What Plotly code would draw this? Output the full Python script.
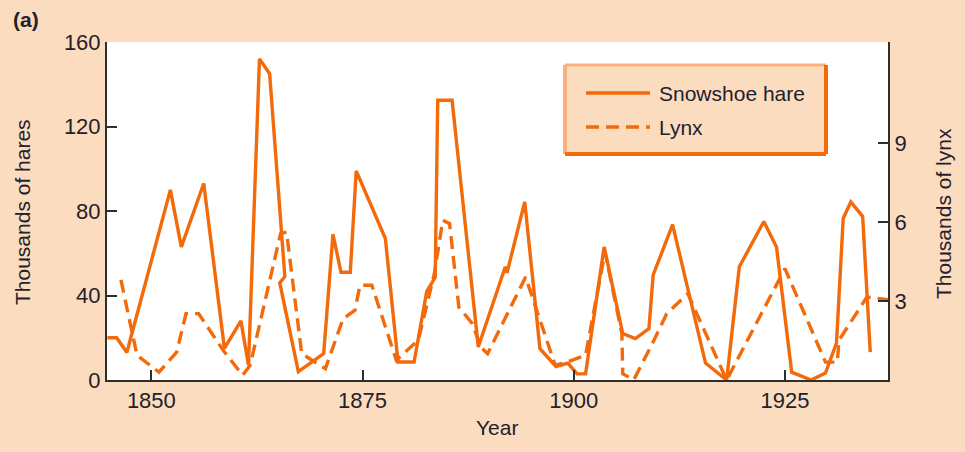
import plotly.graph_objects as go

# ---- data ----
hare_years = [1844.8, 1845.9, 1847.1, 1852.25, 1853.55, 1856.2, 1858.65, 1860.6, 1861.5,
              1862.8, 1864.0, 1865.8, 1865.2, 1867.4, 1870.4, 1871.5, 1872.45, 1873.55,
              1874.25, 1877.7, 1879.2, 1881.1, 1882.6, 1883.6, 1883.9, 1885.6, 1888.7,
              1891.9, 1892.1, 1894.2, 1896.0, 1897.9, 1899.3, 1900.4, 1901.4, 1903.6,
              1905.8, 1907.3, 1908.9, 1909.4, 1911.7, 1915.6, 1918.1, 1919.6, 1922.5,
              1924.0, 1925.8, 1928.1, 1929.8, 1931.1, 1931.9, 1932.8, 1934.2, 1935.1]
hare_values = [20, 20, 13, 90, 63, 93, 15, 28, 7,
               152, 145, 49, 46, 4, 12.5, 69, 51, 51,
               99, 67, 8.5, 8.5, 42, 48.6, 132.4, 132.4, 15.6,
               53.6, 50.7, 84.3, 14.8, 6.4, 8, 2.9, 2.9, 63,
               22, 19.6, 24.3, 49.7, 73.5, 8, 0, 53.6, 75,
               63, 3.7, 0, 3.3, 17.5, 76.6, 84.3, 77.4, 13.2]

lynx_years = [1846.4, 1848.3, 1850.9, 1853.0, 1854.1, 1855.6, 1858.5, 1860.8, 1861.7,
              1865.3, 1866.0, 1867.8, 1870.6, 1872.7, 1874.1, 1874.7, 1876.1, 1879.0,
              1881.6, 1883.5, 1884.5, 1885.3, 1886.4, 1888.0, 1889.0, 1889.8, 1894.3,
              1895.6, 1897.8, 1899.2, 1901.4, 1903.7, 1905.7, 1905.8, 1907.1, 1909.5,
              1911.0, 1913.5, 1918.1, 1925.0, 1929.8, 1931.2, 1931.4, 1934.7, 1937.3]
lynx_values = [3.8, 0.94, 0.3, 1.06, 2.52, 2.52, 1.13, 0.18, 0.56,
               5.56, 5.62, 1.0, 0.43, 2.33, 2.65, 3.6, 3.6, 0.75,
               1.51, 4.04, 6.07, 5.94, 2.77, 2.14, 1.25, 1.0, 3.91,
               2.65, 0.56, 0.68, 0.94, 4.86, 1.76, 0.24, 0.0, 1.51,
               2.52, 3.28, 0.0, 4.23, 0.68, 0.68, 1.51, 3.15, 3.05]

x_ticks = [1850, 1875, 1900, 1925]
hare_ticks = [0, 40, 80, 120, 160]
lynx_ticks = [0, 3, 6, 9]
lynx_ticktext = ["", "3", "6", "9"]

# ---- style ----
ORANGE = "#f26a0a"
LIGHT_ORANGE = "#f9b07a"
PEACH = "#fbdcbf"
TEXT = "#23212b"
AXIS = "#2e2e2e"
FONT = "Liberation Sans, Arial, sans-serif"

W, H = 965, 452
L, R, T, B = 107, 888, 42, 380


def px(x):
    return (x - L) / (R - L)


def py(y):
    return (B - y) / (B - T)


fig = go.Figure()
fig.add_trace(go.Scatter(x=hare_years, y=hare_values, mode="lines", name="Snowshoe hare",
                         line=dict(color=ORANGE, width=3.4), showlegend=False))
fig.add_trace(go.Scatter(x=lynx_years, y=lynx_values, mode="lines", name="Lynx", yaxis="y2",
                         line=dict(color=ORANGE, width=3.4, dash="13px,7px"), showlegend=False))

axis_common = dict(showgrid=False, zeroline=False, showline=True, linecolor=AXIS, linewidth=2,
                   ticks="inside", ticklen=10, tickwidth=2, tickcolor=AXIS,
                   tickfont=dict(family=FONT, size=22, color=TEXT))

fig.update_layout(
    width=W, height=H,
    margin=dict(l=L, r=W - R, t=T, b=H - B, pad=0),
    paper_bgcolor=PEACH, plot_bgcolor="white",
    xaxis=dict(range=[1844.75, 1937.2], tickvals=x_ticks, **axis_common),
    yaxis=dict(range=[0, 160], tickvals=hare_ticks, **axis_common),
    yaxis2=dict(range=[0, 12.84], tickvals=lynx_ticks, ticktext=lynx_ticktext,
                overlaying="y", side="right", **axis_common),
)

# legend box (drawn manually to reproduce the bevelled frame)
x0, x1, y0, y1 = 565, 826, 65, 154
shapes = [
    dict(type="rect", xref="paper", yref="paper", x0=px(x0), x1=px(x1), y0=py(y1), y1=py(y0),
         fillcolor=PEACH, line=dict(width=0), layer="above"),
    dict(type="line", xref="paper", yref="paper", x0=px(x0), x1=px(x0), y0=py(y1), y1=py(y0),
         line=dict(color=LIGHT_ORANGE, width=4), layer="above"),
    dict(type="line", xref="paper", yref="paper", x0=px(x0), x1=px(x1), y0=py(y0), y1=py(y0),
         line=dict(color=LIGHT_ORANGE, width=3), layer="above"),
    dict(type="line", xref="paper", yref="paper", x0=px(x1), x1=px(x1), y0=py(y1), y1=py(y0),
         line=dict(color=ORANGE, width=4), layer="above"),
    dict(type="line", xref="paper", yref="paper", x0=px(x0), x1=px(x1), y0=py(y1), y1=py(y1),
         line=dict(color=ORANGE, width=4), layer="above"),
    dict(type="line", xref="paper", yref="paper", x0=px(586), x1=px(650), y0=py(93), y1=py(93),
         line=dict(color=ORANGE, width=3.4), layer="above"),
    dict(type="line", xref="paper", yref="paper", x0=px(586), x1=px(650), y0=py(127), y1=py(127),
         line=dict(color=ORANGE, width=3.4, dash="13px,7px"), layer="above"),
]
fig.update_layout(shapes=shapes)

annotations = [
    dict(text="Snowshoe hare", x=px(657), y=py(93), xanchor="left", yanchor="middle",
         font=dict(family=FONT, size=21, color=TEXT)),
    dict(text="Lynx", x=px(657), y=py(128), xanchor="left", yanchor="middle",
         font=dict(family=FONT, size=21, color=TEXT)),
    dict(text="Year", x=px(497), y=py(427), xanchor="center", yanchor="middle",
         font=dict(family=FONT, size=21, color=TEXT)),
    dict(text="Thousands of hares", x=px(22), y=py(212), xanchor="center", yanchor="middle",
         textangle=-90, font=dict(family=FONT, size=21, color=TEXT)),
    dict(text="Thousands of lynx", x=px(944), y=py(214), xanchor="center", yanchor="middle",
         textangle=-90, font=dict(family=FONT, size=21, color=TEXT)),
    dict(text="<b>(a)</b>", x=px(26), y=py(20), xanchor="center", yanchor="middle",
         font=dict(family=FONT, size=21, color=TEXT)),
]
for a in annotations:
    a.update(xref="paper", yref="paper", showarrow=False)
fig.update_layout(annotations=annotations)

fig.write_html("out.html")
